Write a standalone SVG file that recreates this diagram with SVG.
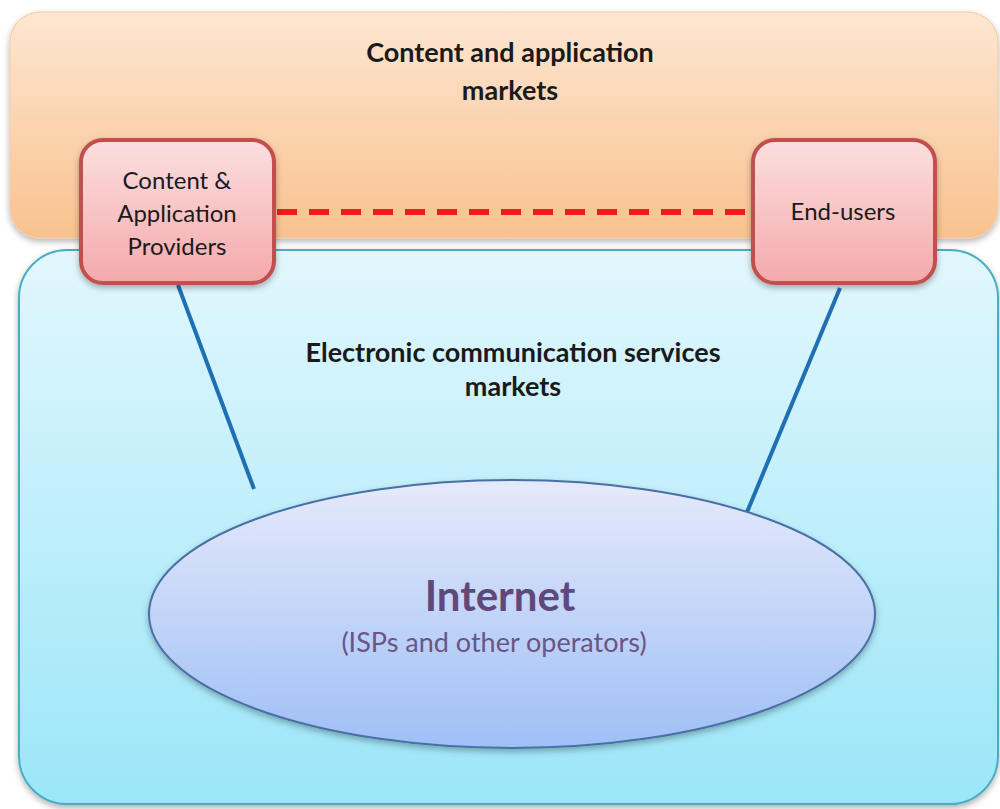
<svg xmlns="http://www.w3.org/2000/svg" width="1000" height="809" viewBox="0 0 1000 809">
<defs>
<linearGradient id="gOrange" x1="0" y1="0" x2="0" y2="1"><stop offset="0" stop-color="#fde6d2"/><stop offset="1" stop-color="#f9c28f"/></linearGradient>
<linearGradient id="gBlue" x1="0" y1="0" x2="0" y2="1"><stop offset="0" stop-color="#e2f7fd"/><stop offset="1" stop-color="#9be6f9"/></linearGradient>
<linearGradient id="gPink" x1="0" y1="0" x2="0" y2="1"><stop offset="0" stop-color="#fcdfe0"/><stop offset="1" stop-color="#f5a9ab"/></linearGradient>
<linearGradient id="gEll" x1="0" y1="0" x2="0" y2="1"><stop offset="0" stop-color="#e6eafb"/><stop offset="1" stop-color="#9fbff6"/></linearGradient>
<filter id="sh" x="-10%" y="-10%" width="120%" height="130%"><feDropShadow dx="0" dy="3" stdDeviation="3" flood-color="#000" flood-opacity="0.3"/></filter>
</defs>
<style>
text{font-family:Lato,"Open Sans","Liberation Sans",sans-serif;fill:#1a1a1a;text-anchor:middle}
.title{font-size:27px;font-weight:bold}
.node{font-size:24px}
.pink{fill:url(#gPink);stroke:#c0504d;stroke-width:4}
.link{stroke:#1f6fb5;stroke-width:4;fill:none}
</style>
<g id="content-markets">
<rect x="10" y="12" width="988" height="226" rx="30" fill="url(#gOrange)" stroke="#f4c9a0" stroke-width="1" filter="url(#sh)"/>
<text class="title" x="510" y="62">Content and application</text>
<text class="title" x="510" y="100">markets</text>
</g>
<g id="ecs-markets">
<rect x="19" y="250" width="979" height="554" rx="48" fill="url(#gBlue)" stroke="#4bacc6" stroke-width="2" filter="url(#sh)"/>
<text class="title" x="513" y="362">Electronic communication services</text>
<text class="title" x="513" y="396">markets</text>
</g>
<g id="connectors">
<line class="link" x1="178" y1="285" x2="254" y2="489"/>
<line class="link" x1="840" y1="288" x2="745" y2="517"/>
<line x1="277" y1="212" x2="752" y2="212" stroke="#ee1c1c" stroke-width="6" stroke-dasharray="20 12"/>
</g>
<g id="internet">
<ellipse cx="512" cy="614" rx="363" ry="134" fill="url(#gEll)" stroke="#4a6fa5" stroke-width="2" filter="url(#sh)"/>
<text x="500" y="611" style="font-size:42px;font-weight:bold;fill:#5f497a">Internet</text>
<text x="494" y="652" style="font-size:27px;fill:#6a5585">(ISPs and other operators)</text>
</g>
<g id="cap-node">
<rect class="pink" x="81" y="140" width="193" height="143" rx="22" filter="url(#sh)"/>
<text class="node" x="177" y="189">Content &amp;</text>
<text class="node" x="177" y="222">Application</text>
<text class="node" x="177" y="255">Providers</text>
</g>
<g id="end-users">
<rect class="pink" x="753" y="140" width="182" height="143" rx="22" filter="url(#sh)"/>
<text class="node" x="843" y="220">End-users</text>
</g>
</svg>
